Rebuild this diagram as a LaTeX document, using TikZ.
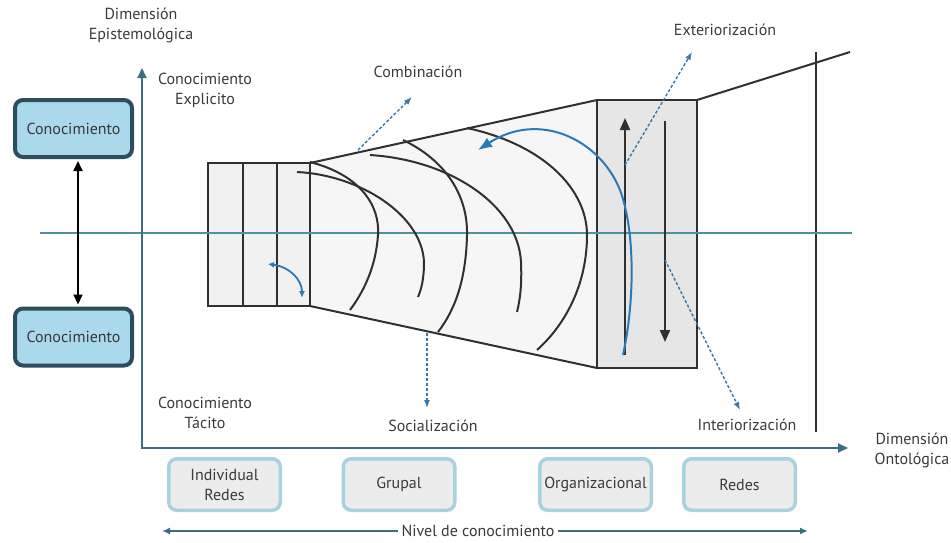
\documentclass[tikz,border=0pt]{standalone}
\usepackage{fontspec}
\setmainfont{PT Sans}
\usetikzlibrary{arrows.meta}
\definecolor{axisc}{HTML}{3C6E82}
\definecolor{midc}{HTML}{4F8EA3}
\definecolor{txt}{HTML}{3A3A3A}
\definecolor{kbfill}{HTML}{A9D9EA}
\definecolor{kbdraw}{HTML}{2C4D5E}
\definecolor{lvfill}{HTML}{ECECEC}
\definecolor{lvdraw}{HTML}{A8D3DE}
\definecolor{blu}{HTML}{2A7AB8}
\definecolor{dashc}{HTML}{3A78A8}
\definecolor{trapf}{HTML}{F6F6F6}
\definecolor{blockf}{HTML}{F1F1F1}
\definecolor{rboxf}{HTML}{E6E6E6}
\definecolor{dk}{HTML}{303030}
\begin{document}
\begin{tikzpicture}[x=1pt,y=-1pt,
  font=\fontsize{16}{20}\selectfont,
  every node/.style={text=txt},
  lbl/.style={align=center, inner sep=1pt},
  kbox/.style={draw=kbdraw, fill=kbfill, line width=4pt, rounded corners=8pt,
     minimum width=117pt, minimum height=57pt, align=center},
  lvbox/.style={draw=lvdraw, fill=lvfill, line width=3.5pt, rounded corners=8pt,
     minimum width=111.5pt, minimum height=51.5pt, align=center},
  dkline/.style={draw=dk, line width=2pt},
  arcline/.style={draw=dk, line width=2pt},
  dasharrow/.style={draw=dashc, line width=1.4pt, dash pattern=on 3pt off 2pt, -{Latex[length=8pt,width=6pt]}},
  axisline/.style={draw=axisc, line width=2pt}
]
\useasboundingbox (0,0) rectangle (951,542);

% trapezoid and blocks
\fill[trapf] (310,163) -- (597,100) -- (597,368) -- (310,306) -- cycle;
\draw[dkline] (310,163) -- (597,100);
\draw[dkline] (310,306) -- (597,368);
\draw[dkline, fill=blockf] (208,163) rectangle (310,306);
\draw[dkline] (243,163) -- (243,306);
\draw[dkline] (277,163) -- (277,306);
\draw[dkline, fill=rboxf] (597,100) rectangle (697,368);
\draw[dkline] (697,100) -- (850,52);
\draw[dkline] (816,52) -- (816,432);

% horizontal teal line
\draw[draw=midc, line width=1.6pt] (40,233) -- (852,233);

% black arcs
\draw[arcline] (310,162) .. controls (360,175) and (380,205) .. (378,235) .. controls (376,265) and (365,290) .. (350,310);
\draw[arcline] (297,172) .. controls (360,175) and (422,215) .. (424,262) .. controls (424,280) and (421,290) .. (418,297);
\draw[arcline] (403,140) .. controls (445,160) and (468,195) .. (467,235) .. controls (466,280) and (455,310) .. (438,332);
\draw[arcline] (370,155) .. controls (450,160) and (518,205) .. (521,262) .. controls (522,285) and (520,300) .. (517,312);
\draw[arcline] (467,128) .. controls (545,145) and (587,190) .. (587,235) .. controls (587,285) and (565,325) .. (537,350);

% arrows in right box
\draw[dkline, -{Triangle[length=12pt,width=10pt]}] (625,355) -- (625,118);
\draw[dkline, -{Triangle[length=12pt,width=10pt]}] (665,121) -- (665,342);

% blue arcs
\draw[draw=blu, line width=2pt, -{Latex[length=14pt,width=11pt]}] (623,355) .. controls (635,300) and (635,230) .. (620,190) .. controls (600,140) and (540,110) .. (478,150);
\draw[draw=blu, line width=1.8pt, {Latex[length=6pt,width=6pt]}-{Latex[length=7pt,width=6pt]}] (268,264) .. controls (290,267) and (302,280) .. (302,298);

% axes
\draw[axisline, {Triangle[length=10pt,width=9pt]}-{Triangle[length=10pt,width=9pt]}] (142,68) -- (142,448) -- (848,448);

% labels
\node[lbl] (epi) at (141,25) {Dimensión\\Epistemológica};
\node[lbl] (expl) at (205,90) {Conocimiento\\Explicito};
\node[lbl] (tac) at (205,413) {Conocimiento\\Tácito};
\node[lbl] (onto) at (912,450) {Dimensión\\Ontológica};
\node[lbl] (comb) at (418,72) {Combinación};
\node[lbl] (exte) at (725,30) {Exteriorización};
\node[lbl] (soci) at (433,426) {Socialización};
\node[lbl] (inte) at (747,425) {Interiorización};

% dashed arrows
\coordinate (combs) at (358,150);
\coordinate (combe) at (412,97);
\coordinate (extes) at (625,165);
\coordinate (extee) at (692,52);
\coordinate (intes) at (665,260);
\coordinate (intee) at (740,410);
\coordinate (socis) at (427,333);
\coordinate (socie) at (427,408);
\draw[dasharrow] (combs) -- (combe);
\draw[dasharrow] (extes) -- (extee);
\draw[dasharrow] (intes) -- (intee);
\draw[dasharrow] (socis) -- (socie);

% knowledge boxes
\node[kbox] (k1) at (73.5,128.5) {Conocimiento};
\node[kbox] (k2) at (73.5,337) {Conocimiento};
\draw[draw=black, line width=2pt, {Triangle[length=10pt,width=9pt]}-{Triangle[length=10pt,width=9pt]}, shorten <=2pt, shorten >=2pt] ([xshift=4.5pt]k1.south) -- ([xshift=4.5pt]k2.north);

% level boxes
\node[lvbox] (l1) at (224.5,484.5) {Individual\\Redes};
\node[lvbox] (l2) at (399,484.5) {Grupal};
\node[lvbox] (l3) at (595.5,484.5) {Organizacional};
\node[lvbox] (l4) at (739.5,484.5) {Redes};

% nivel arrow
\coordinate (nl) at (162,531);
\coordinate (nr) at (808,531);
\draw[axisline, line width=2.5pt, {Latex[length=8pt,width=7pt]}-{Latex[length=8pt,width=7pt]}] (nl) -- (nr);
\node[fill=white, inner xsep=4pt, inner ysep=1pt] (niv) at (478,531) {Nivel de conocimiento};
\end{tikzpicture}
\end{document}
